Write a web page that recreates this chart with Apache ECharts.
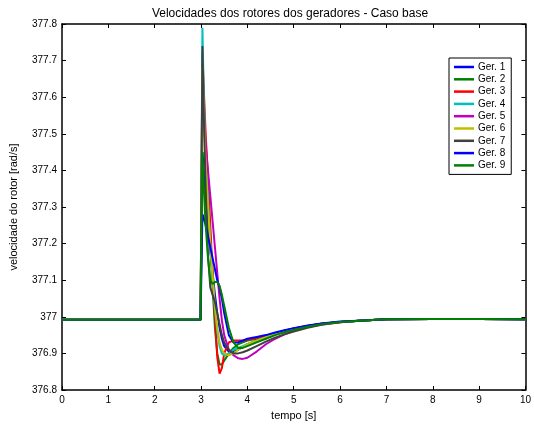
<!DOCTYPE html>
<html>
<head>
<meta charset="utf-8">
<script src="https://cdn.jsdelivr.net/npm/echarts@6/dist/echarts.min.js"></script>
<style>html,body{margin:0;padding:0;background:#fff;}#c{width:534px;height:426px;}</style>
</head>
<body>
<div id="c"></div>
<script>
var times = [0, 2.99, 3.0, 3.03, 3.06, 3.1, 3.15, 3.2, 3.25, 3.3, 3.35, 3.4, 3.45, 3.5, 3.6, 3.7, 3.8, 3.9, 4.0, 4.2, 4.4, 4.6, 4.8, 5.0, 5.3, 5.6, 6.0, 6.5, 7.0, 8.0, 9.0, 10.0];
var names = ['Ger. 1','Ger. 2','Ger. 3','Ger. 4','Ger. 5','Ger. 6','Ger. 7','Ger. 8','Ger. 9'];
var colors = ['#0000ff','#008000','#ff0000','#00bfbf','#bf00bf','#bfbf00','#404040','#0000ff','#008000'];
var xTicks = [0,1,2,3,4,5,6,7,8,9,10];

var ger1 = [376.992,376.992,376.992,377.45,377.40,377.33,377.25,377.18,377.12,377.06,377.01,376.97,376.94,376.92,376.905,376.905,376.91,376.918,376.925,376.935,376.945,376.955,376.962,376.968,376.975,376.981,376.986,376.990,376.993,376.994,376.994,376.993];
var ger2 = [376.992,376.992,376.992,377.63,377.55,377.45,377.33,377.20,377.08,376.97,376.90,376.87,376.87,376.88,376.90,376.915,376.925,376.93,376.935,376.94,376.946,376.954,376.961,376.967,376.975,376.981,376.986,376.990,376.993,376.994,376.994,376.993];
var ger3 = [376.992,376.992,376.992,377.72,377.62,377.50,377.38,377.25,377.12,377.00,376.89,376.845,376.86,376.90,376.93,376.935,376.935,376.935,376.937,376.942,376.948,376.955,376.962,376.968,376.975,376.981,376.986,376.990,376.993,376.994,376.994,376.993];
var ger4 = [376.992,376.992,376.992,377.79,377.60,377.45,377.32,377.20,377.10,377.02,376.96,376.92,376.90,376.895,376.90,376.91,376.915,376.92,376.925,376.935,376.944,376.953,376.96,376.966,376.974,376.98,376.986,376.990,376.993,376.994,376.994,376.993];
var ger5 = [376.992,376.992,376.992,377.60,377.55,377.47,377.40,377.33,377.26,377.19,377.12,377.05,376.99,376.95,376.91,376.895,376.887,376.885,376.888,376.905,376.925,376.94,376.952,376.962,376.972,376.979,376.985,376.990,376.993,376.994,376.994,376.993];
var ger6 = [376.992,376.992,376.992,377.68,377.55,377.42,377.30,377.20,377.11,377.03,376.97,376.93,376.91,376.90,376.895,376.90,376.91,376.917,376.925,376.935,376.944,376.953,376.96,376.966,376.974,376.98,376.986,376.990,376.993,376.994,376.994,376.993];
var ger7 = [376.992,376.992,376.992,377.74,377.55,377.35,377.17,377.08,377.06,377.04,377.01,376.98,376.95,376.93,376.91,376.90,376.90,376.903,376.908,376.92,376.932,376.943,376.952,376.96,376.97,376.978,376.985,376.990,376.993,376.994,376.994,376.993];
var ger8 = [376.992,376.992,376.992,377.28,377.27,377.25,377.22,377.19,377.16,377.13,377.10,377.08,377.05,377.01,376.95,376.93,376.93,376.935,376.94,376.945,376.95,376.957,376.963,376.969,376.976,376.982,376.987,376.990,376.993,376.994,376.994,376.993];
var ger9 = [376.992,376.992,376.992,377.45,377.35,377.25,377.16,377.10,377.09,377.095,377.095,377.085,377.06,377.03,376.97,376.93,376.915,376.915,376.92,376.93,376.94,376.95,376.958,376.965,376.973,376.98,376.986,376.990,376.993,376.994,376.994,376.993];

var allData = [ger1, ger2, ger3, ger4, ger5, ger6, ger7, ger8, ger9];

var FONT = 'Liberation Sans, Arial, sans-serif';
var series = allData.map(function(vals, i){
  return {
    name: names[i], type: 'line', showSymbol: false, symbol: 'none',
    data: vals.map(function(v, k){ return [times[k], v]; }),
    lineStyle: {color: colors[i], width: 2},
    itemStyle: {color: colors[i]},
    animation: false, z: 2 + i
  };
});

var chart = echarts.init(document.getElementById('c'), null, {renderer: 'canvas'});
var axisCommon = {
  axisLine: {show: true, onZero: false, lineStyle: {color: '#000', width: 1.5}},
  axisTick: {show: true, inside: true, length: 4, lineStyle: {color: '#000', width: 1}},
  splitLine: {show: false}
};
chart.setOption({
  backgroundColor: '#fff',
  animation: false,
  title: {
    text: 'Velocidades dos rotores dos geradores - Caso base',
    left: 285, top: 3, textAlign: 'center',
    textStyle: {fontFamily: FONT, fontSize: 12, fontWeight: 'normal', color: '#000'}
  },
  legend: {
    data: names, orient: 'vertical', left: 449, top: 58,
    icon: 'rect', itemWidth: 20, itemHeight: 2.5, itemGap: 2.3,
    padding: [4, 6, 4, 5],
    borderColor: '#000', borderWidth: 1, backgroundColor: '#fff',
    textStyle: {fontFamily: FONT, fontSize: 10, color: '#000', padding: [0,0,0,-1]}
  },
  grid: {left: 62, right: 5, top: 24, bottom: 33, containLabel: false},
  xAxis: [
    Object.assign({
      type: 'value', min: 0, max: 10, interval: 1,
      name: 'tempo [s]', nameLocation: 'middle', nameGap: 20,
      nameTextStyle: {fontFamily: FONT, fontSize: 11, color: '#000'},
      axisLabel: {fontFamily: FONT, fontSize: 10, color: '#000', margin: 5,
        formatter: function(v){ return xTicks.indexOf(v) >= 0 ? String(v) : ''; }}
    }, axisCommon),
    Object.assign({
      type: 'value', min: 0, max: 10, interval: 1, position: 'top',
      axisLabel: {show: false}
    }, axisCommon)
  ],
  yAxis: [
    Object.assign({
      type: 'value', min: 376.8, max: 377.8, interval: 0.1,
      name: 'velocidade do rotor [rad/s]', nameLocation: 'middle', nameGap: 43,
      nameTextStyle: {fontFamily: FONT, fontSize: 11, color: '#000'},
      axisLabel: {fontFamily: FONT, fontSize: 10, color: '#000', margin: 5,
        formatter: function(v){ return String(Math.round(v * 10) / 10); }}
    }, axisCommon),
    Object.assign({
      type: 'value', min: 376.8, max: 377.8, interval: 0.1, position: 'right',
      axisLabel: {show: false}
    }, axisCommon)
  ],
  series: series
});
</script>
</body>
</html>
